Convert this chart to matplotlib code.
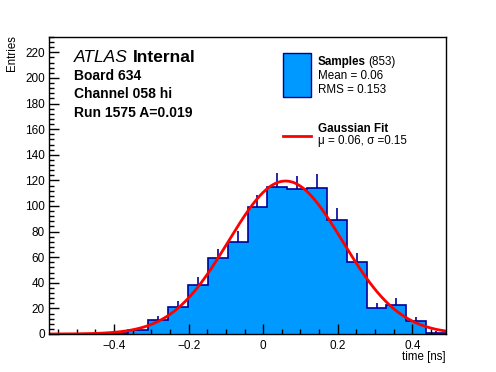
import numpy as np
import matplotlib
matplotlib.use("Agg")
import matplotlib.pyplot as plt
from matplotlib.patches import Rectangle
from matplotlib.lines import Line2D
from matplotlib.ticker import MultipleLocator

plt.rcParams['font.family'] = ['Liberation Sans', 'DejaVu Sans']

# histogram of timing residuals, 20 bins
x_lo = -0.5745
x_hi = 0.4905
n_bins = 20
counts = [0, 0, 0, 1, 3, 11, 21, 38, 59, 72, 99, 115, 113, 114, 89, 56, 20, 23, 10, 1]

# gaussian fit parameters
fit_amp = 119.5
fit_mu = 0.06
fit_sigma = 0.153

x_ticks = [-0.4, -0.2, 0.0, 0.2, 0.4]
x_ticklabels = ["\u22120.4", "\u22120.2", "0", "0.2", "0.4"]
y_ticks = [0, 20, 40, 60, 80, 100, 120, 140, 160, 180, 200, 220]

info_lines = ["Board 634", "Channel 058 hi", "Run 1575 A=0.019"]

edges = np.linspace(x_lo, x_hi, n_bins + 1)
centers = 0.5 * (edges[:-1] + edges[1:])
counts = np.array(counts, dtype=float)

W, H = 496, 372
fig = plt.figure(figsize=(W / 100, H / 100), dpi=100)
ax = fig.add_axes([49 / W, 1 - 334 / H, (446 - 49) / W, (334 - 37) / H])

navy = '#000099'
fill = '#0099ff'

ax.stairs(counts, edges, fill=True, color=fill, lw=0)
ax.stairs(counts, edges, color=navy, lw=1.2)
nz = counts > 0
ax.vlines(centers[nz], counts[nz], counts[nz] + np.sqrt(counts[nz]), color=navy, lw=1.2)

xs = np.linspace(x_lo, x_hi, 400)
ax.plot(xs, fit_amp * np.exp(-0.5 * ((xs - fit_mu) / fit_sigma) ** 2), color='#ff0000', lw=2)

ax.set_xlim(x_lo, x_hi)
ax.set_ylim(0, 232)
ax.set_xticks(x_ticks)
ax.set_xticklabels(x_ticklabels)
ax.set_yticks(y_ticks)
ax.xaxis.set_minor_locator(MultipleLocator(0.05))
ax.yaxis.set_minor_locator(MultipleLocator(4))
ax.tick_params(which='both', direction='in', top=False, right=False, labelsize=8.5, width=1)
ax.tick_params(which='major', length=7)
ax.tick_params(which='minor', length=3.5)
ax.tick_params(axis='x', pad=4)
ax.tick_params(axis='y', pad=3)
for s in ax.spines.values():
    s.set_linewidth(1)

fig.text(12 / W, 1 - 35 / H, 'Entries', rotation=90, ha='center', va='top', fontsize=8.3)
fig.text(446 / W, 1 - 357 / H, 'time [ns]', ha='right', va='center', fontsize=8.3)

# ATLAS label block
fig.text(74 / W, 1 - 57 / H, 'ATLAS', style='italic', ha='left', va='center', fontsize=12.5)
fig.text(133 / W, 1 - 57 / H, 'Internal', weight='bold', ha='left', va='center', fontsize=12.5)
for i, line in enumerate(info_lines):
    fig.text(74 / W, 1 - (76 + 18.5 * i) / H, line, weight='bold', ha='left', va='center', fontsize=10)

# legend
fig.patches.append(Rectangle((283 / W, 1 - 97 / H), 28 / W, 44 / H, transform=fig.transFigure,
                             facecolor=fill, edgecolor=navy, lw=1))
fig.text(318 / W, 1 - 62 / H, 'Samples', weight='bold', ha='left', va='center', fontsize=8.4)
fig.text(368 / W, 1 - 62 / H, '(853)', ha='left', va='center', fontsize=8.4)
fig.text(318 / W, 1 - 76 / H, 'Mean = 0.06', ha='left', va='center', fontsize=8.4)
fig.text(318 / W, 1 - 90 / H, 'RMS = 0.153', ha='left', va='center', fontsize=8.4)
fig.lines.append(Line2D([283 / W, 311 / W], [1 - 136 / H, 1 - 136 / H], transform=fig.transFigure,
                        color='#ff0000', lw=2))
fig.text(318 / W, 1 - 129 / H, 'Gaussian Fit', weight='bold', ha='left', va='center', fontsize=8.4)
fig.text(318 / W, 1 - 141 / H, '\u03bc = 0.06, \u03c3 =0.15', ha='left', va='center', fontsize=8.4)

fig.savefig('out.png', dpi=100)
